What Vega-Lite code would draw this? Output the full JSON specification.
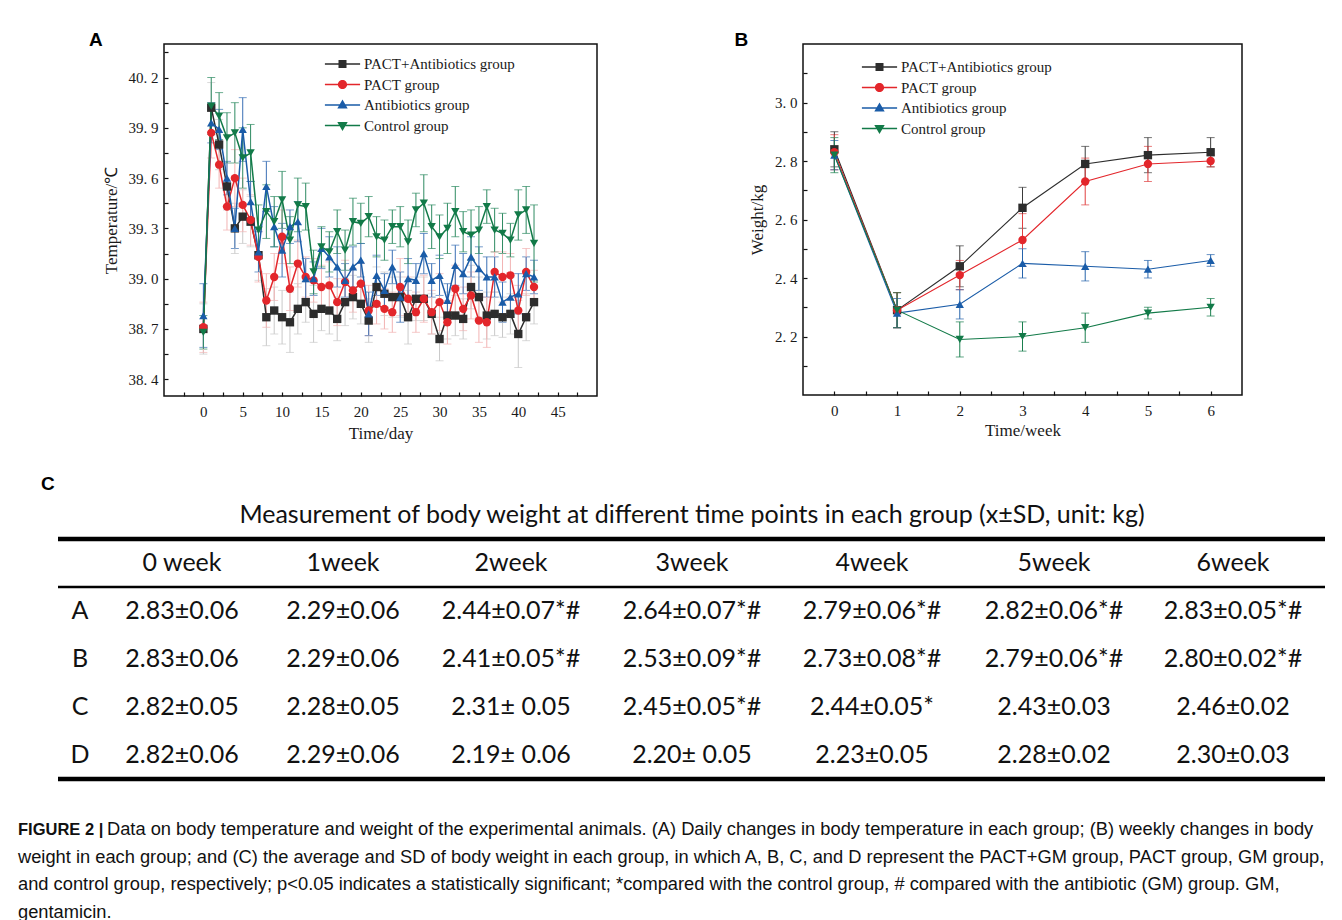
{
"$schema": "https://vega.github.io/schema/vega-lite/v6.json",
"background": "white",
"padding": {"left": 18, "top": 30, "right": 0, "bottom": 0},
"config": {"view": {"stroke": null}, "font": "Liberation Serif", "axis": {"grid": false}},
"datasets": {
"temp": [
{"day":0,"group":"PACT+Antibiotics group","t":38.70,"sd":0.15},{"day":1,"group":"PACT+Antibiotics group","t":40.02,"sd":0.15},{"day":2,"group":"PACT+Antibiotics group","t":39.80,"sd":0.15},{"day":3,"group":"PACT+Antibiotics group","t":39.55,"sd":0.14},{"day":4,"group":"PACT+Antibiotics group","t":39.30,"sd":0.15},{"day":5,"group":"PACT+Antibiotics group","t":39.37,"sd":0.16},{"day":6,"group":"PACT+Antibiotics group","t":39.34,"sd":0.15},{"day":7,"group":"PACT+Antibiotics group","t":39.14,"sd":0.15},{"day":8,"group":"PACT+Antibiotics group","t":38.77,"sd":0.17},{"day":9,"group":"PACT+Antibiotics group","t":38.81,"sd":0.14},{"day":10,"group":"PACT+Antibiotics group","t":38.77,"sd":0.16},{"day":11,"group":"PACT+Antibiotics group","t":38.74,"sd":0.18},{"day":12,"group":"PACT+Antibiotics group","t":38.82,"sd":0.15},{"day":13,"group":"PACT+Antibiotics group","t":38.86,"sd":0.12},{"day":14,"group":"PACT+Antibiotics group","t":38.79,"sd":0.17},{"day":15,"group":"PACT+Antibiotics group","t":38.82,"sd":0.13},{"day":16,"group":"PACT+Antibiotics group","t":38.81,"sd":0.14},{"day":17,"group":"PACT+Antibiotics group","t":38.76,"sd":0.13},{"day":18,"group":"PACT+Antibiotics group","t":38.86,"sd":0.14},{"day":19,"group":"PACT+Antibiotics group","t":38.89,"sd":0.13},{"day":20,"group":"PACT+Antibiotics group","t":38.85,"sd":0.12},{"day":21,"group":"PACT+Antibiotics group","t":38.75,"sd":0.13},{"day":22,"group":"PACT+Antibiotics group","t":38.95,"sd":0.12},{"day":23,"group":"PACT+Antibiotics group","t":38.91,"sd":0.13},{"day":24,"group":"PACT+Antibiotics group","t":38.89,"sd":0.12},{"day":25,"group":"PACT+Antibiotics group","t":38.89,"sd":0.12},{"day":26,"group":"PACT+Antibiotics group","t":38.77,"sd":0.16},{"day":27,"group":"PACT+Antibiotics group","t":38.88,"sd":0.13},{"day":28,"group":"PACT+Antibiotics group","t":38.88,"sd":0.13},{"day":29,"group":"PACT+Antibiotics group","t":38.79,"sd":0.12},{"day":30,"group":"PACT+Antibiotics group","t":38.64,"sd":0.13},{"day":31,"group":"PACT+Antibiotics group","t":38.78,"sd":0.14},{"day":32,"group":"PACT+Antibiotics group","t":38.78,"sd":0.12},{"day":33,"group":"PACT+Antibiotics group","t":38.76,"sd":0.12},{"day":34,"group":"PACT+Antibiotics group","t":38.95,"sd":0.13},{"day":35,"group":"PACT+Antibiotics group","t":38.89,"sd":0.12},{"day":36,"group":"PACT+Antibiotics group","t":38.78,"sd":0.14},{"day":37,"group":"PACT+Antibiotics group","t":38.79,"sd":0.13},{"day":38,"group":"PACT+Antibiotics group","t":38.77,"sd":0.12},{"day":39,"group":"PACT+Antibiotics group","t":38.79,"sd":0.12},{"day":40,"group":"PACT+Antibiotics group","t":38.67,"sd":0.20},{"day":41,"group":"PACT+Antibiotics group","t":38.77,"sd":0.14},{"day":42,"group":"PACT+Antibiotics group","t":38.86,"sd":0.13},
{"day":0,"group":"PACT group","t":38.71,"sd":0.15},{"day":1,"group":"PACT group","t":39.87,"sd":0.15},{"day":2,"group":"PACT group","t":39.68,"sd":0.14},{"day":3,"group":"PACT group","t":39.43,"sd":0.14},{"day":4,"group":"PACT group","t":39.60,"sd":0.17},{"day":5,"group":"PACT group","t":39.44,"sd":0.16},{"day":6,"group":"PACT group","t":39.35,"sd":0.15},{"day":7,"group":"PACT group","t":39.13,"sd":0.15},{"day":8,"group":"PACT group","t":38.87,"sd":0.16},{"day":9,"group":"PACT group","t":39.01,"sd":0.14},{"day":10,"group":"PACT group","t":39.25,"sd":0.16},{"day":11,"group":"PACT group","t":38.94,"sd":0.13},{"day":12,"group":"PACT group","t":39.09,"sd":0.14},{"day":13,"group":"PACT group","t":39.01,"sd":0.12},{"day":14,"group":"PACT group","t":38.99,"sd":0.13},{"day":15,"group":"PACT group","t":38.95,"sd":0.13},{"day":16,"group":"PACT group","t":38.96,"sd":0.14},{"day":17,"group":"PACT group","t":38.86,"sd":0.14},{"day":18,"group":"PACT group","t":38.98,"sd":0.13},{"day":19,"group":"PACT group","t":38.93,"sd":0.13},{"day":20,"group":"PACT group","t":38.97,"sd":0.12},{"day":21,"group":"PACT group","t":38.81,"sd":0.15},{"day":22,"group":"PACT group","t":38.85,"sd":0.12},{"day":23,"group":"PACT group","t":38.82,"sd":0.12},{"day":24,"group":"PACT group","t":38.80,"sd":0.12},{"day":25,"group":"PACT group","t":38.95,"sd":0.17},{"day":26,"group":"PACT group","t":38.88,"sd":0.13},{"day":27,"group":"PACT group","t":38.80,"sd":0.12},{"day":28,"group":"PACT group","t":38.88,"sd":0.14},{"day":29,"group":"PACT group","t":38.80,"sd":0.13},{"day":30,"group":"PACT group","t":38.86,"sd":0.17},{"day":31,"group":"PACT group","t":38.74,"sd":0.13},{"day":32,"group":"PACT group","t":38.94,"sd":0.14},{"day":33,"group":"PACT group","t":38.82,"sd":0.13},{"day":34,"group":"PACT group","t":38.90,"sd":0.14},{"day":35,"group":"PACT group","t":38.75,"sd":0.13},{"day":36,"group":"PACT group","t":38.74,"sd":0.15},{"day":37,"group":"PACT group","t":39.04,"sd":0.12},{"day":38,"group":"PACT group","t":39.01,"sd":0.15},{"day":39,"group":"PACT group","t":39.02,"sd":0.13},{"day":40,"group":"PACT group","t":38.81,"sd":0.15},{"day":41,"group":"PACT group","t":39.04,"sd":0.14},{"day":42,"group":"PACT group","t":38.95,"sd":0.10},
{"day":0,"group":"Antibiotics group","t":38.78,"sd":0.19},{"day":1,"group":"Antibiotics group","t":39.93,"sd":0.12},{"day":2,"group":"Antibiotics group","t":39.89,"sd":0.12},{"day":3,"group":"Antibiotics group","t":39.60,"sd":0.10},{"day":4,"group":"Antibiotics group","t":39.30,"sd":0.12},{"day":5,"group":"Antibiotics group","t":39.89,"sd":0.19},{"day":6,"group":"Antibiotics group","t":39.46,"sd":0.12},{"day":7,"group":"Antibiotics group","t":39.16,"sd":0.12},{"day":8,"group":"Antibiotics group","t":39.55,"sd":0.15},{"day":9,"group":"Antibiotics group","t":39.31,"sd":0.12},{"day":10,"group":"Antibiotics group","t":39.17,"sd":0.16},{"day":11,"group":"Antibiotics group","t":39.31,"sd":0.10},{"day":12,"group":"Antibiotics group","t":39.34,"sd":0.12},{"day":13,"group":"Antibiotics group","t":39.00,"sd":0.12},{"day":14,"group":"Antibiotics group","t":39.00,"sd":0.10},{"day":15,"group":"Antibiotics group","t":39.18,"sd":0.12},{"day":16,"group":"Antibiotics group","t":39.13,"sd":0.12},{"day":17,"group":"Antibiotics group","t":39.07,"sd":0.12},{"day":18,"group":"Antibiotics group","t":38.99,"sd":0.10},{"day":19,"group":"Antibiotics group","t":39.07,"sd":0.12},{"day":20,"group":"Antibiotics group","t":39.11,"sd":0.10},{"day":21,"group":"Antibiotics group","t":38.79,"sd":0.13},{"day":22,"group":"Antibiotics group","t":39.02,"sd":0.12},{"day":23,"group":"Antibiotics group","t":38.93,"sd":0.10},{"day":24,"group":"Antibiotics group","t":39.07,"sd":0.10},{"day":25,"group":"Antibiotics group","t":38.89,"sd":0.15},{"day":26,"group":"Antibiotics group","t":39.00,"sd":0.12},{"day":27,"group":"Antibiotics group","t":38.99,"sd":0.10},{"day":28,"group":"Antibiotics group","t":39.15,"sd":0.12},{"day":29,"group":"Antibiotics group","t":38.99,"sd":0.10},{"day":30,"group":"Antibiotics group","t":39.02,"sd":0.12},{"day":31,"group":"Antibiotics group","t":38.87,"sd":0.10},{"day":32,"group":"Antibiotics group","t":39.08,"sd":0.12},{"day":33,"group":"Antibiotics group","t":39.03,"sd":0.12},{"day":34,"group":"Antibiotics group","t":39.13,"sd":0.12},{"day":35,"group":"Antibiotics group","t":39.06,"sd":0.13},{"day":36,"group":"Antibiotics group","t":39.01,"sd":0.12},{"day":37,"group":"Antibiotics group","t":39.01,"sd":0.12},{"day":38,"group":"Antibiotics group","t":38.86,"sd":0.12},{"day":39,"group":"Antibiotics group","t":38.89,"sd":0.12},{"day":40,"group":"Antibiotics group","t":38.91,"sd":0.12},{"day":41,"group":"Antibiotics group","t":39.03,"sd":0.10},{"day":42,"group":"Antibiotics group","t":39.01,"sd":0.10},
{"day":0,"group":"Control group","t":38.68,"sd":0.10},{"day":1,"group":"Control group","t":40.03,"sd":0.17},{"day":2,"group":"Control group","t":39.97,"sd":0.14},{"day":3,"group":"Control group","t":39.84,"sd":0.15},{"day":4,"group":"Control group","t":39.87,"sd":0.18},{"day":5,"group":"Control group","t":39.72,"sd":0.18},{"day":6,"group":"Control group","t":39.75,"sd":0.17},{"day":7,"group":"Control group","t":39.29,"sd":0.15},{"day":8,"group":"Control group","t":39.40,"sd":0.16},{"day":9,"group":"Control group","t":39.34,"sd":0.15},{"day":10,"group":"Control group","t":39.47,"sd":0.17},{"day":11,"group":"Control group","t":39.23,"sd":0.14},{"day":12,"group":"Control group","t":39.44,"sd":0.16},{"day":13,"group":"Control group","t":39.43,"sd":0.14},{"day":14,"group":"Control group","t":39.04,"sd":0.13},{"day":15,"group":"Control group","t":39.19,"sd":0.12},{"day":16,"group":"Control group","t":39.16,"sd":0.12},{"day":17,"group":"Control group","t":39.28,"sd":0.13},{"day":18,"group":"Control group","t":39.17,"sd":0.12},{"day":19,"group":"Control group","t":39.34,"sd":0.14},{"day":20,"group":"Control group","t":39.33,"sd":0.12},{"day":21,"group":"Control group","t":39.37,"sd":0.12},{"day":22,"group":"Control group","t":39.25,"sd":0.12},{"day":23,"group":"Control group","t":39.23,"sd":0.12},{"day":24,"group":"Control group","t":39.31,"sd":0.10},{"day":25,"group":"Control group","t":39.31,"sd":0.12},{"day":26,"group":"Control group","t":39.22,"sd":0.13},{"day":27,"group":"Control group","t":39.41,"sd":0.10},{"day":28,"group":"Control group","t":39.45,"sd":0.17},{"day":29,"group":"Control group","t":39.31,"sd":0.13},{"day":30,"group":"Control group","t":39.25,"sd":0.13},{"day":31,"group":"Control group","t":39.30,"sd":0.15},{"day":32,"group":"Control group","t":39.40,"sd":0.15},{"day":33,"group":"Control group","t":39.28,"sd":0.12},{"day":34,"group":"Control group","t":39.26,"sd":0.15},{"day":35,"group":"Control group","t":39.29,"sd":0.14},{"day":36,"group":"Control group","t":39.43,"sd":0.10},{"day":37,"group":"Control group","t":39.29,"sd":0.13},{"day":38,"group":"Control group","t":39.27,"sd":0.12},{"day":39,"group":"Control group","t":39.23,"sd":0.10},{"day":40,"group":"Control group","t":39.38,"sd":0.15},{"day":41,"group":"Control group","t":39.41,"sd":0.14},{"day":42,"group":"Control group","t":39.21,"sd":0.23}
],
"weight": [
{"week":0,"group":"PACT+Antibiotics group","w":2.84,"sd":0.06},{"week":1,"group":"PACT+Antibiotics group","w":2.29,"sd":0.06},{"week":2,"group":"PACT+Antibiotics group","w":2.44,"sd":0.07},{"week":3,"group":"PACT+Antibiotics group","w":2.64,"sd":0.07},{"week":4,"group":"PACT+Antibiotics group","w":2.79,"sd":0.06},{"week":5,"group":"PACT+Antibiotics group","w":2.82,"sd":0.06},{"week":6,"group":"PACT+Antibiotics group","w":2.83,"sd":0.05},
{"week":0,"group":"PACT group","w":2.83,"sd":0.06},{"week":1,"group":"PACT group","w":2.29,"sd":0.06},{"week":2,"group":"PACT group","w":2.41,"sd":0.05},{"week":3,"group":"PACT group","w":2.53,"sd":0.09},{"week":4,"group":"PACT group","w":2.73,"sd":0.08},{"week":5,"group":"PACT group","w":2.79,"sd":0.06},{"week":6,"group":"PACT group","w":2.80,"sd":0.02},
{"week":0,"group":"Antibiotics group","w":2.82,"sd":0.05},{"week":1,"group":"Antibiotics group","w":2.28,"sd":0.05},{"week":2,"group":"Antibiotics group","w":2.31,"sd":0.05},{"week":3,"group":"Antibiotics group","w":2.45,"sd":0.05},{"week":4,"group":"Antibiotics group","w":2.44,"sd":0.05},{"week":5,"group":"Antibiotics group","w":2.43,"sd":0.03},{"week":6,"group":"Antibiotics group","w":2.46,"sd":0.02},
{"week":0,"group":"Control group","w":2.82,"sd":0.06},{"week":1,"group":"Control group","w":2.29,"sd":0.06},{"week":2,"group":"Control group","w":2.19,"sd":0.06},{"week":3,"group":"Control group","w":2.20,"sd":0.05},{"week":4,"group":"Control group","w":2.23,"sd":0.05},{"week":5,"group":"Control group","w":2.28,"sd":0.02},{"week":6,"group":"Control group","w":2.30,"sd":0.03}
],
"tcells": [
{"r":-1,"c":4,"text":"Measurement of body weight at different time points in each group (x±SD, unit: kg)"},
{"r":0,"c":1,"text":"0 week"},{"r":0,"c":2,"text":"1week"},{"r":0,"c":3,"text":"2week"},{"r":0,"c":4,"text":"3week"},{"r":0,"c":5,"text":"4week"},{"r":0,"c":6,"text":"5week"},{"r":0,"c":7,"text":"6week"},
{"r":1,"c":0,"text":"A"},{"r":1,"c":1,"text":"2.83±0.06"},{"r":1,"c":2,"text":"2.29±0.06"},{"r":1,"c":3,"text":"2.44±0.07*#"},{"r":1,"c":4,"text":"2.64±0.07*#"},{"r":1,"c":5,"text":"2.79±0.06*#"},{"r":1,"c":6,"text":"2.82±0.06*#"},{"r":1,"c":7,"text":"2.83±0.05*#"},
{"r":2,"c":0,"text":"B"},{"r":2,"c":1,"text":"2.83±0.06"},{"r":2,"c":2,"text":"2.29±0.06"},{"r":2,"c":3,"text":"2.41±0.05*#"},{"r":2,"c":4,"text":"2.53±0.09*#"},{"r":2,"c":5,"text":"2.73±0.08*#"},{"r":2,"c":6,"text":"2.79±0.06*#"},{"r":2,"c":7,"text":"2.80±0.02*#"},
{"r":3,"c":0,"text":"C"},{"r":3,"c":1,"text":"2.82±0.05"},{"r":3,"c":2,"text":"2.28±0.05"},{"r":3,"c":3,"text":"2.31±  0.05"},{"r":3,"c":4,"text":"2.45±0.05*#"},{"r":3,"c":5,"text":"2.44±0.05*"},{"r":3,"c":6,"text":"2.43±0.03"},{"r":3,"c":7,"text":"2.46±0.02"},
{"r":4,"c":0,"text":"D"},{"r":4,"c":1,"text":"2.82±0.06"},{"r":4,"c":2,"text":"2.29±0.06"},{"r":4,"c":3,"text":"2.19±  0.06"},{"r":4,"c":4,"text":"2.20±  0.05"},{"r":4,"c":5,"text":"2.23±0.05"},{"r":4,"c":6,"text":"2.28±0.02"},{"r":4,"c":7,"text":"2.30±0.03"}
],
"trules": [{"r":-0.5,"kind":"thick"},{"r":0.5,"kind":"thin"},{"r":4.5,"kind":"thick"}],
"caption": [
{"line":1,"part":"label","text":"FIGURE 2 |"},
{"line":1,"part":"lead","text":"Data on body temperature and weight of the experimental animals. (A) Daily changes in body temperature in each group; (B) weekly changes in body"},
{"line":2,"part":"body","text":"weight in each group; and (C) the average and SD of body weight in each group, in which A, B, C, and D represent the PACT+GM group, PACT group, GM group,"},
{"line":3,"part":"body","text":"and control group, respectively; p<0.05 indicates a statistically significant; *compared with the control group, # compared with the antibiotic (GM) group. GM,"},
{"line":4,"part":"body","text":"gentamicin."}
]
},
"spacing": 33,
"vconcat": [
{"spacing": 0, "hconcat": [
 {"width": 30, "height": 10, "data": {"values": []}, "mark": "point"},
 {"spacing": 135, "hconcat": [
  {
   "width": 433, "height": 352,
   "view": {"stroke": "#111", "strokeWidth": 1.5},
   "title": {"text": "A", "anchor": "start", "frame": "bounds", "dx": -13, "offset": -21, "baseline": "alphabetic", "font": "Liberation Sans", "fontSize": 19, "fontWeight": "bold", "color": "#000"},
   "data": {"name": "temp"},
   "encoding": {
    "x": {"field": "day", "type": "quantitative", "scale": {"domain": [-5, 50], "nice": false, "zero": false},
     "axis": {"values": [-2.5,0,2.5,5,7.5,10,12.5,15,17.5,20,22.5,25,27.5,30,32.5,35,37.5,40,42.5,45,47.5], "labelExpr": "datum.value % 5 === 0 ? format(datum.value, '.0f') : ''", "title": "Time/day", "domain": false, "tickSize": -4, "tickColor": "#111", "tickWidth": 1.2, "labelPadding": 12, "labelFont": "Liberation Serif", "labelFontSize": 15, "labelColor": "#1a1a1a", "labelFlush": false, "labelOverlap": false, "titleFont": "Liberation Serif", "titleFontSize": 17, "titleFontWeight": "normal", "titleColor": "#1a1a1a", "titlePadding": 6}},
    "y": {"field": "t", "type": "quantitative", "scale": {"domain": [38.3, 40.4], "nice": false, "zero": false},
     "axis": {"values": [38.4,38.55,38.7,38.85,39.0,39.15,39.3,39.45,39.6,39.75,39.9,40.05,40.2,40.35], "labelExpr": "round((datum.value - 38.4) / 0.15) % 2 === 0 ? replace(format(datum.value, '.1f'), '.', '. ') : ''", "title": "Temperature/℃", "domain": false, "tickSize": -4, "tickColor": "#111", "tickWidth": 1.2, "labelPadding": 10, "labelFont": "Liberation Serif", "labelFontSize": 15, "labelColor": "#1a1a1a", "labelOverlap": false, "labelFlush": false, "titleFont": "Liberation Serif", "titleFontSize": 17, "titleFontWeight": "normal", "titleColor": "#1a1a1a", "titlePadding": 8}}
   },
   "layer": [
    {"mark": {"type": "errorbar", "ticks": {"size": 8, "thickness": 1}, "thickness": 1},
     "encoding": {"yError": {"field": "sd"}, "color": {"field": "group", "type": "nominal", "scale": {"domain": ["PACT+Antibiotics group","PACT group","Antibiotics group","Control group"], "range": ["#c9c9c9","#f2b3b3","#3a70b5","#2e8b62"]}, "legend": null}}},
    {"encoding": {"color": {"field": "group", "type": "nominal", "scale": {"domain": ["PACT+Antibiotics group","PACT group","Antibiotics group","Control group"], "range": ["#2d2d2d","#e3262b","#1a5ca8","#127a48"]},
       "legend": {"title": null, "orient": "none", "legendX": 171, "legendY": 12.5, "padding": 0, "rowPadding": 4.5, "symbolSize": 64, "labelOffset": 14, "labelFont": "Liberation Serif", "labelFontSize": 15, "labelColor": "#1a1a1a", "labelLimit": 0,
        "encode": {"symbols": {"update": {
         "shape": {"signal": "datum.value === 'PACT+Antibiotics group' ? 'M-4.4,-0.19H-0.9V0.19H-4.4Z M0.9,-0.19H4.4V0.19H0.9Z M-1,-1H1V1H-1Z' : datum.value === 'PACT group' ? 'M-4.4,-0.19H-1V0.19H-4.4Z M1,-0.19H4.4V0.19H1Z M-1.15,0A1.15,1.15 0 1,1 1.15,0A1.15,1.15 0 1,1 -1.15,0Z' : datum.value === 'Antibiotics group' ? 'M-4.4,-0.19H-0.6V0.19H-4.4Z M0.6,-0.19H4.4V0.19H0.6Z M0,-1.35L1.3,0.9H-1.3Z' : 'M-4.4,-0.19H-0.6V0.19H-4.4Z M0.6,-0.19H4.4V0.19H0.6Z M0,1.35L-1.3,-0.9H1.3Z'"},
         "fill": {"signal": "datum.value === 'PACT+Antibiotics group' ? '#2d2d2d' : datum.value === 'PACT group' ? '#e3262b' : datum.value === 'Antibiotics group' ? '#1a5ca8' : '#127a48'"},
         "opacity": {"value": 1}, "strokeWidth": {"value": 0}}}}}}},
     "layer": [
      {"mark": {"type": "line", "strokeWidth": 1.5}, "encoding": {}},
      {"mark": {"type": "point", "filled": true, "size": 70, "opacity": 1},
       "encoding": {"shape": {"field": "group", "type": "nominal", "scale": {"domain": ["PACT+Antibiotics group","PACT group","Antibiotics group","Control group"], "range": ["square","circle","triangle-up","triangle-down"]}, "legend": null}}}
     ]}
   ],
   "resolve": {"scale": {"color": "independent"}}
  },
  {
   "width": 439, "height": 351,
   "view": {"stroke": "#111", "strokeWidth": 1.5},
   "title": {"text": "B", "anchor": "start", "frame": "bounds", "dx": -14, "offset": -21, "baseline": "alphabetic", "font": "Liberation Sans", "fontSize": 19, "fontWeight": "bold", "color": "#000"},
   "data": {"name": "weight"},
   "encoding": {
    "x": {"field": "week", "type": "quantitative", "scale": {"domain": [-0.5, 6.5], "nice": false, "zero": false},
     "axis": {"values": [0,0.5,1,1.5,2,2.5,3,3.5,4,4.5,5,5.5,6], "labelExpr": "datum.value % 1 === 0 ? format(datum.value, '.0f') : ''", "title": "Time/week", "domain": false, "tickSize": -4, "tickColor": "#111", "tickWidth": 1.2, "labelPadding": 12, "labelFont": "Liberation Serif", "labelFontSize": 15, "labelColor": "#1a1a1a", "labelFlush": false, "labelOverlap": false, "titleFont": "Liberation Serif", "titleFontSize": 17, "titleFontWeight": "normal", "titleColor": "#1a1a1a", "titlePadding": 4}},
    "y": {"field": "w", "type": "quantitative", "scale": {"domain": [2.0, 3.2], "nice": false, "zero": false},
     "axis": {"values": [2.1,2.2,2.3,2.4,2.5,2.6,2.7,2.8,2.9,3.0,3.1], "labelExpr": "round(datum.value * 10) % 2 === 0 ? replace(format(datum.value, '.1f'), '.', '. ') : ''", "title": "Weight/kg", "domain": false, "tickSize": -4, "tickColor": "#111", "tickWidth": 1.2, "labelPadding": 10, "labelFont": "Liberation Serif", "labelFontSize": 15, "labelColor": "#1a1a1a", "labelOverlap": false, "labelFlush": false, "titleFont": "Liberation Serif", "titleFontSize": 17, "titleFontWeight": "normal", "titleColor": "#1a1a1a", "titlePadding": 8}}
   },
   "layer": [
    {"mark": {"type": "errorbar", "ticks": {"size": 8, "thickness": 1}, "thickness": 1},
     "encoding": {"yError": {"field": "sd"}, "color": {"field": "group", "type": "nominal", "scale": {"domain": ["PACT+Antibiotics group","PACT group","Antibiotics group","Control group"], "range": ["#3a3a3a","#e04040","#2563ab","#1a7f4e"]}, "legend": null}}},
    {"encoding": {"color": {"field": "group", "type": "nominal", "scale": {"domain": ["PACT+Antibiotics group","PACT group","Antibiotics group","Control group"], "range": ["#2d2d2d","#e3262b","#1a5ca8","#127a48"]},
       "legend": {"title": null, "orient": "none", "legendX": 69, "legendY": 15.5, "padding": 0, "rowPadding": 4.5, "symbolSize": 64, "labelOffset": 14, "labelFont": "Liberation Serif", "labelFontSize": 15, "labelColor": "#1a1a1a", "labelLimit": 0,
        "encode": {"symbols": {"update": {
         "shape": {"signal": "datum.value === 'PACT+Antibiotics group' ? 'M-4.4,-0.19H-0.9V0.19H-4.4Z M0.9,-0.19H4.4V0.19H0.9Z M-1,-1H1V1H-1Z' : datum.value === 'PACT group' ? 'M-4.4,-0.19H-1V0.19H-4.4Z M1,-0.19H4.4V0.19H1Z M-1.15,0A1.15,1.15 0 1,1 1.15,0A1.15,1.15 0 1,1 -1.15,0Z' : datum.value === 'Antibiotics group' ? 'M-4.4,-0.19H-0.6V0.19H-4.4Z M0.6,-0.19H4.4V0.19H0.6Z M0,-1.35L1.3,0.9H-1.3Z' : 'M-4.4,-0.19H-0.6V0.19H-4.4Z M0.6,-0.19H4.4V0.19H0.6Z M0,1.35L-1.3,-0.9H1.3Z'"},
         "fill": {"signal": "datum.value === 'PACT+Antibiotics group' ? '#2d2d2d' : datum.value === 'PACT group' ? '#e3262b' : datum.value === 'Antibiotics group' ? '#1a5ca8' : '#127a48'"},
         "opacity": {"value": 1}, "strokeWidth": {"value": 0}}}}}}},
     "layer": [
      {"mark": {"type": "line", "strokeWidth": 1.1}, "encoding": {}},
      {"mark": {"type": "point", "filled": true, "size": 70, "opacity": 1},
       "encoding": {"shape": {"field": "group", "type": "nominal", "scale": {"domain": ["PACT+Antibiotics group","PACT group","Antibiotics group","Control group"], "range": ["square","circle","triangle-up","triangle-down"]}, "legend": null}}}
     ]}
   ],
   "resolve": {"scale": {"color": "independent"}}
  }
 ]}
]},
{
 "width": 1267, "height": 430,
 "title": {"text": "C", "anchor": "start", "frame": "group", "dx": -17, "offset": -18, "baseline": "alphabetic", "font": "Liberation Sans", "fontSize": 19, "fontWeight": "bold", "color": "#000"},
 "layer": [
  {"layer": [
   {"data": {"name": "trules"}, "transform": [{"filter": "datum.kind === 'thick'"}], "mark": {"type": "rule", "strokeWidth": 4.5, "color": "#000"},
    "encoding": {"y": {"field": "r", "type": "quantitative", "scale": {"domain": [-1.5, 7.4583], "reverse": true, "nice": false, "zero": false}, "axis": null}}},
   {"data": {"name": "trules"}, "transform": [{"filter": "datum.kind === 'thin'"}], "mark": {"type": "rule", "strokeWidth": 2.5, "color": "#000"},
    "encoding": {"y": {"field": "r", "type": "quantitative", "scale": {"domain": [-1.5, 7.4583], "reverse": true, "nice": false, "zero": false}, "axis": null}}},
   {"data": {"name": "tcells"}, "mark": {"type": "text", "font": "Lato", "fontSize": 25, "color": "#111", "align": "center", "baseline": "middle"},
    "encoding": {
     "x": {"field": "c", "type": "quantitative", "scale": {"domain": [0,1,2,3,4,5,6,7], "range": [22,124,285,453,634,814,996,1175], "nice": false, "zero": false}, "axis": null},
     "y": {"field": "r", "type": "quantitative", "scale": {"domain": [-1.5, 7.4583], "reverse": true, "nice": false, "zero": false}, "axis": null},
     "text": {"field": "text"}}}
  ]},
  {"layer": [
   {"data": {"name": "caption"}, "transform": [{"filter": "datum.part === 'label'"}], "mark": {"type": "text", "align": "left", "baseline": "middle", "font": "Liberation Sans", "fontSize": 16.5, "fontWeight": "bold", "color": "#111"},
    "encoding": {"x": {"datum": 0, "type": "quantitative", "scale": {"domain": [0, 1], "range": [-40, 1227], "nice": false, "zero": false}, "axis": null},
     "y": {"field": "line", "type": "quantitative", "scale": {"domain": [-11.327, 4.309], "reverse": true, "nice": false, "zero": false}, "axis": null},
     "text": {"field": "text"}}},
   {"data": {"name": "caption"}, "transform": [{"filter": "datum.part === 'lead'"}], "mark": {"type": "text", "align": "left", "baseline": "middle", "font": "Liberation Sans", "fontSize": 18.3, "color": "#111", "dx": 89},
    "encoding": {"x": {"datum": 0, "type": "quantitative", "scale": {"domain": [0, 1], "range": [-40, 1227], "nice": false, "zero": false}, "axis": null},
     "y": {"field": "line", "type": "quantitative", "scale": {"domain": [-11.327, 4.309], "reverse": true, "nice": false, "zero": false}, "axis": null},
     "text": {"field": "text"}}},
   {"data": {"name": "caption"}, "transform": [{"filter": "datum.part === 'body'"}], "mark": {"type": "text", "align": "left", "baseline": "middle", "font": "Liberation Sans", "fontSize": 18.3, "color": "#111"},
    "encoding": {"x": {"datum": 0, "type": "quantitative", "scale": {"domain": [0, 1], "range": [-40, 1227], "nice": false, "zero": false}, "axis": null},
     "y": {"field": "line", "type": "quantitative", "scale": {"domain": [-11.327, 4.309], "reverse": true, "nice": false, "zero": false}, "axis": null},
     "text": {"field": "text"}}}
  ]}
 ],
 "resolve": {"scale": {"x": "independent", "y": "independent"}}
}
]
}
